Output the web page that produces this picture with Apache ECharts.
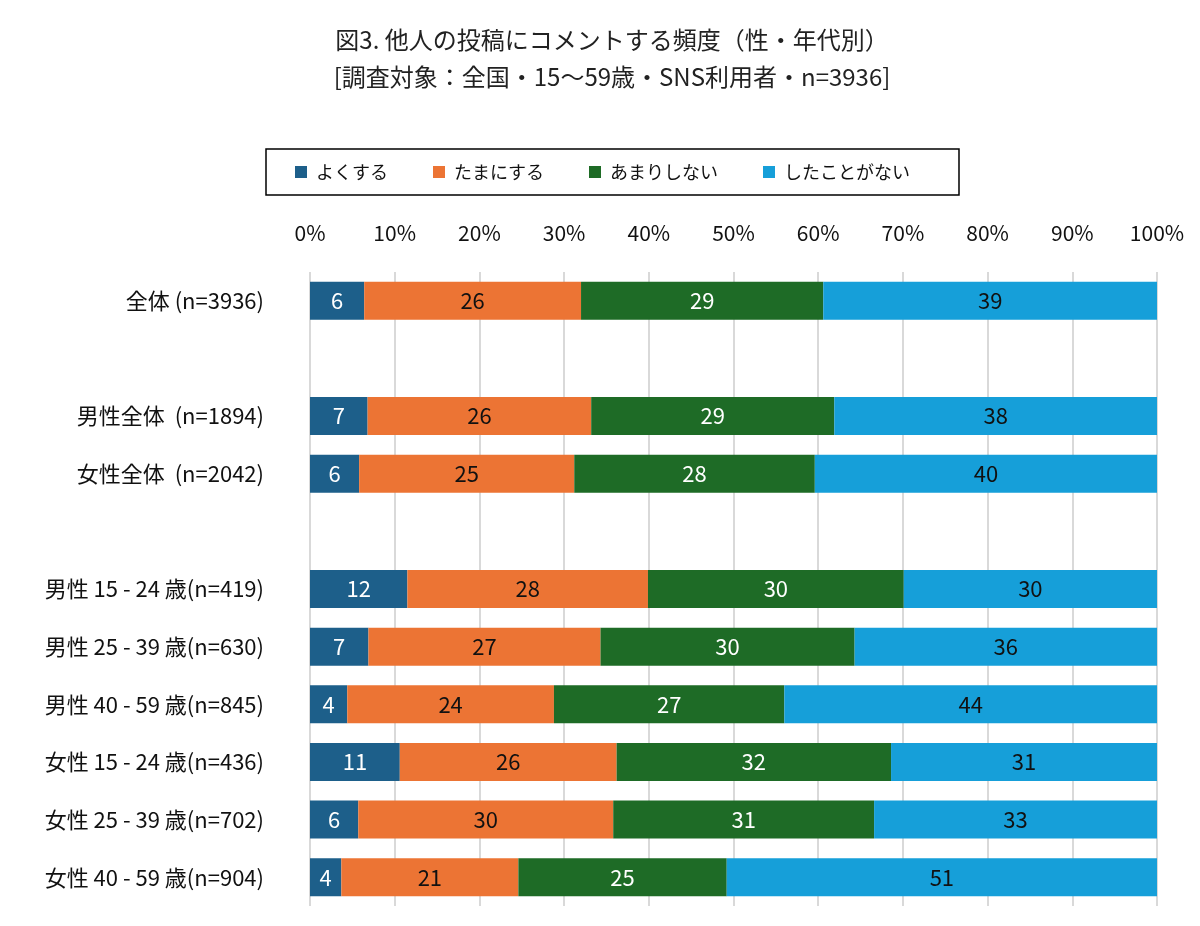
<!DOCTYPE html>
<html>
<head>
<meta charset="utf-8">
<script src="https://cdn.jsdelivr.net/npm/echarts@6/dist/echarts.min.js"></script>
<style>
html,body{margin:0;padding:0;background:#fff;}
#chart{width:1200px;height:926px;}
</style>
</head>
<body>
<div id="chart"></div>
<script>
const categories = [
  '全体 (n=3936)',
  '',
  '男性全体  (n=1894)',
  '女性全体  (n=2042)',
  ' ',
  '男性 15 - 24 歳(n=419)',
  '男性 25 - 39 歳(n=630)',
  '男性 40 - 59 歳(n=845)',
  '女性 15 - 24 歳(n=436)',
  '女性 25 - 39 歳(n=702)',
  '女性 40 - 59 歳(n=904)'
];
const seriesNames = ['よくする', 'たまにする', 'あまりしない', 'したことがない'];
const often     = [6.4, null, 6.8, 5.8, null, 11.5, 6.9, 4.4, 10.6, 5.7, 3.7];
const sometimes = [25.6, null, 26.4, 25.4, null, 28.4, 27.4, 24.4, 25.6, 30.1, 20.9];
const rarely    = [28.6, null, 28.7, 28.4, null, 30.2, 30.0, 27.2, 32.4, 30.8, 24.6];
const never     = [39.4, null, 38.1, 40.4, null, 29.9, 35.7, 44.0, 31.4, 33.4, 50.8];
const xTicks = [0, 10, 20, 30, 40, 50, 60, 70, 80, 90, 100];

const colors = ['#1d5f8a', '#ec7434', '#1e6b26', '#169fd9'];
const labelColors = ['#ffffff', '#111111', '#ffffff', '#111111'];
const FONT = '"Noto Sans CJK JP", "Noto Sans", sans-serif';

const values = [often, sometimes, rarely, never];
const chart = echarts.init(document.getElementById('chart'));
chart.setOption({
  backgroundColor: '#ffffff',
  animation: false,
  title: {
    text: '図3. 他人の投稿にコメントする頻度（性・年代別）\n[調査対象：全国・15～59歳・SNS利用者・n=3936]',
    left: 607,
    textAlign: 'center',
    top: 16,
    textStyle: { fontFamily: FONT, fontSize: 24, fontWeight: 'normal', color: '#222', lineHeight: 37, align: 'center' }
  },
  legend: {
    data: seriesNames,
    left: 266,
    top: 149,
    padding: [12, 49, 12, 29],
    borderColor: '#000',
    borderWidth: 1.5,
    itemWidth: 12,
    itemHeight: 12,
    itemGap: 45,
    icon: 'rect',
    textStyle: { fontFamily: FONT, fontSize: 18, color: '#111', lineHeight: 22, padding: [0, 0, 0, 4] }
  },
  grid: { left: 310, right: 43, top: 272, bottom: 20, containLabel: false },
  xAxis: {
    type: 'value',
    position: 'top',
    min: xTicks[0],
    max: xTicks[xTicks.length - 1],
    interval: xTicks[1] - xTicks[0],
    axisLine: { show: false },
    axisTick: { show: false },
    axisLabel: { formatter: '{value}%', margin: 28, fontFamily: FONT, fontSize: 21, color: '#111' },
    splitLine: { show: true, lineStyle: { color: '#d9d9d9', width: 2 } }
  },
  yAxis: {
    type: 'category',
    inverse: true,
    data: categories,
    axisLine: { show: false },
    axisTick: { show: false },
    axisLabel: { margin: 46, fontFamily: FONT, fontSize: 22, color: '#111' }
  },
  series: seriesNames.map((name, i) => ({
    name: name,
    type: 'bar',
    stack: 'total',
    barWidth: 38,
    data: values[i],
    itemStyle: { color: colors[i] },
    label: {
      show: true,
      position: 'inside',
      formatter: p => (p.value == null ? '' : String(Math.round(p.value))),
      fontFamily: FONT,
      fontSize: 22,
      color: labelColors[i]
    }
  }))
});
</script>
</body>
</html>
